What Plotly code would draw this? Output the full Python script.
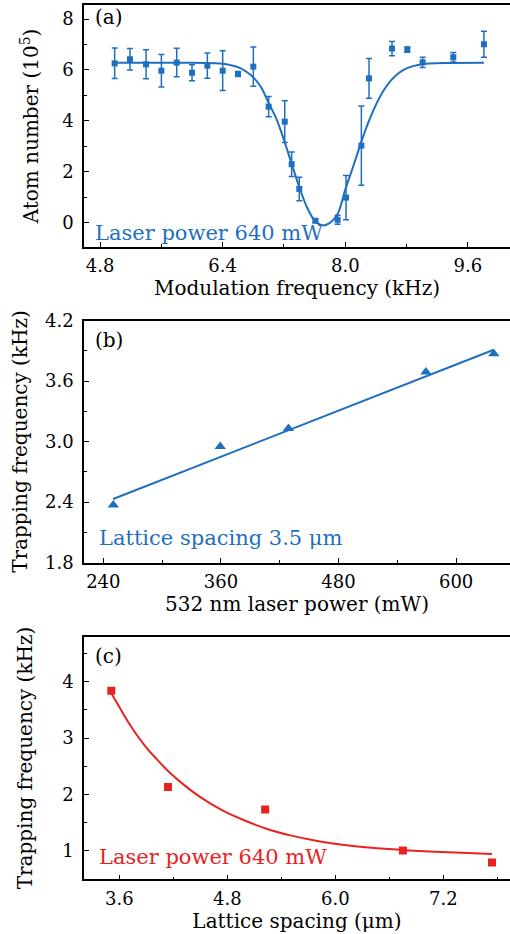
import plotly.graph_objects as go

BLUE = '#1f6fbf'
RED = '#e8231f'
FONT = 'DejaVu Serif'

# (a) atom number vs modulation frequency
mod_freq = [4.99, 5.19, 5.40, 5.60, 5.80, 6.00, 6.20, 6.40, 6.60, 6.80, 7.00, 7.21,
            7.30, 7.40, 7.61, 7.90, 8.01, 8.21, 8.31, 8.61, 8.81, 9.01, 9.41, 9.81]
atom_num = [6.26, 6.42, 6.22, 5.97, 6.29, 5.89, 6.17, 5.97, 5.84, 6.13, 4.56, 3.97,
            2.30, 1.33, 0.08, 0.12, 0.99, 3.03, 5.67, 6.84, 6.80, 6.30, 6.50, 7.01]
atom_err = [0.60, 0.42, 0.57, 0.64, 0.56, 0.31, 0.50, 0.78, 0.10, 0.77, 0.40, 0.82,
            0.48, 0.46, 0.07, 0.18, 0.87, 1.56, 0.78, 0.28, 0.10, 0.20, 0.19, 0.51]
# fitted curve
fit_a_x = [4.99, 6.0, 6.3, 6.4, 6.5, 6.6, 6.7, 6.8, 6.9, 7.0, 7.1, 7.2, 7.3, 7.4, 7.5, 7.6,
           7.7, 7.8, 7.9, 8.0, 8.1, 8.2, 8.3, 8.4, 8.5, 8.6, 8.7, 8.8, 8.9, 9.0, 9.1, 9.3, 9.81]
fit_a_y = [6.28, 6.28, 6.26, 6.24, 6.19, 6.11, 5.95, 5.71, 5.33, 4.70, 4.09, 3.25, 2.32, 1.40,
           0.61, 0.09, -0.10, 0.00, 0.35, 1.30, 2.18, 3.09, 3.93, 4.63, 5.19, 5.60, 5.88, 6.06,
           6.16, 6.22, 6.25, 6.27, 6.28]

# (b) trapping frequency vs laser power
power = [250.2, 359.3, 428.9, 569.2, 638.5]
trap_b = [2.37, 2.95, 3.13, 3.69, 3.87]
fit_b_x = [250.0, 638.5]
fit_b_y = [2.43, 3.91]

# (c) trapping frequency vs lattice spacing
spacing = [3.51, 4.14, 5.22, 6.75, 7.74]
trap_c = [3.84, 2.13, 1.73, 1.00, 0.79]
fit_c_x = [3.51, 3.60, 3.70, 3.80, 3.90, 4.00, 4.15, 4.30, 4.50, 4.75, 5.00, 5.25, 5.50,
           5.80, 6.10, 6.40, 6.75, 7.10, 7.40, 7.74]
fit_c_y = [3.80, 3.55, 3.28, 3.04, 2.83, 2.65, 2.40, 2.19, 1.95, 1.71, 1.53, 1.38, 1.27,
           1.17, 1.10, 1.05, 1.01, 0.98, 0.96, 0.94]

fig = go.Figure()

fig.add_trace(go.Scatter(x=fit_a_x, y=fit_a_y, mode='lines', line=dict(color=BLUE, width=2, shape='spline'),
                         xaxis='x', yaxis='y'))
fig.add_trace(go.Scatter(x=mod_freq, y=atom_num, mode='markers',
                         marker=dict(symbol='square', size=6, color=BLUE),
                         error_y=dict(type='data', array=atom_err, color=BLUE, thickness=1.5, width=3),
                         xaxis='x', yaxis='y'))

fig.add_trace(go.Scatter(x=fit_b_x, y=fit_b_y, mode='lines', line=dict(color=BLUE, width=2),
                         xaxis='x2', yaxis='y2'))
fig.add_trace(go.Scatter(x=power, y=trap_b, mode='markers',
                         marker=dict(symbol='triangle-up', size=10, color=BLUE),
                         xaxis='x2', yaxis='y2'))

fig.add_trace(go.Scatter(x=fit_c_x, y=fit_c_y, mode='lines', line=dict(color=RED, width=2, shape='spline'),
                         xaxis='x3', yaxis='y3'))
fig.add_trace(go.Scatter(x=spacing, y=trap_c, mode='markers',
                         marker=dict(symbol='square', size=8, color=RED),
                         xaxis='x3', yaxis='y3'))


def x_axis(rng, tick0, dtick, minor, fmt, title, anchor):
    return dict(range=rng, tick0=tick0, dtick=dtick, tickformat=fmt, anchor=anchor,
                domain=[84 / 510, 1], showgrid=False, zeroline=False, automargin=False,
                showline=True, linecolor='black', linewidth=1.5, mirror=True,
                ticks='inside', ticklen=5, tickwidth=1, tickcolor='black', ticklabelstandoff=2,
                minor=dict(ticks='inside', ticklen=3, dtick=minor, tickcolor='black'),
                tickfont=dict(family=FONT, size=18, color='black'),
                title=dict(text=title, font=dict(family=FONT, size=20, color='black'), standoff=2))


def y_axis(rng, tick0, dtick, minor, fmt, title, anchor, dom, standoff):
    return dict(range=rng, tick0=tick0, dtick=dtick, tickformat=fmt, anchor=anchor,
                domain=[1 - dom[1] / 934, 1 - dom[0] / 934], showgrid=False, zeroline=False,
                automargin=False, showline=True, linecolor='black', linewidth=1.5, mirror=False,
                ticks='inside', ticklen=5, tickwidth=1, tickcolor='black', ticklabelstandoff=5,
                minor=dict(ticks='inside', ticklen=3, dtick=minor, tickcolor='black'),
                tickfont=dict(family=FONT, size=18, color='black'),
                title=dict(text=title, font=dict(family=FONT, size=20, color='black'), standoff=standoff))


fig.update_layout(
    width=510, height=934, margin=dict(l=0, r=0, t=0, b=0),
    paper_bgcolor='white', plot_bgcolor='white', showlegend=False,
    xaxis=x_axis([4.59, 10.15], 4.8, 1.6, 0.8, '.1f', 'Modulation frequency (kHz)', 'y'),
    yaxis=y_axis([-0.95, 8.55], 0, 2, 1, 'd', 'Atom number (10<sup>5</sup>)', 'x', (5, 247), 18),
    xaxis2=x_axis([220.3, 655], 240, 120, 60, 'd', '532 nm laser power (mW)', 'y2'),
    yaxis2=y_axis([1.8, 4.2], 1.8, 0.6, 0.3, '.1f', 'Trapping frequency (kHz)', 'x2', (320.5, 562.5), 12),
    xaxis3=x_axis([3.207, 7.94], 3.6, 1.2, 0.6, '.1f', 'Lattice spacing (μm)', 'y3'),
    yaxis3=y_axis([0.49, 4.8], 1, 1, 0.5, 'd', 'Trapping frequency (kHz)', 'x3', (636.7, 879.3), 24),
)

labels = [('(a)', 'x domain', 'y domain', 0.022, 0.95, 'black'),
          ('Laser power 640 mW', 'x domain', 'y domain', 0.022, 0.057, BLUE),
          ('(b)', 'x2 domain', 'y2 domain', 0.022, 0.92, 'black'),
          ('Lattice spacing 3.5 μm', 'x2 domain', 'y2 domain', 0.03, 0.1, BLUE),
          ('(c)', 'x3 domain', 'y3 domain', 0.022, 0.92, 'black'),
          ('Laser power 640 mW', 'x3 domain', 'y3 domain', 0.03, 0.093, RED)]
for text, xr, yr, x, y, col in labels:
    fig.add_annotation(text=text, xref=xr, yref=yr, x=x, y=y, xanchor='left', yanchor='middle',
                       showarrow=False, font=dict(family=FONT, size=21 if col != 'black' else 20, color=col))

# drop the page's default body margin so the figure fills the window
fig.write_html("out.html", config={'displayModeBar': False},
               post_script="document.body.style.margin='0';")
